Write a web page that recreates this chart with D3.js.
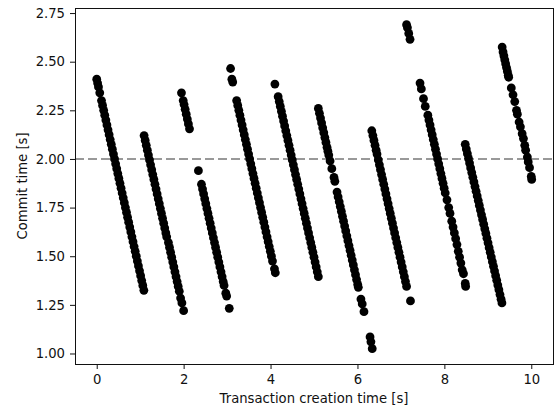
<!DOCTYPE html>
<html>
<head>
<meta charset="utf-8">
<script src="https://cdn.jsdelivr.net/npm/d3@7"></script>
<style>
  html, body { margin: 0; padding: 0; background: #fff; }
  svg { display: block; font-family: "DejaVu Sans", sans-serif; }
</style>
</head>
<body>
<svg id="chart" width="556" height="410"></svg>
<script>
// Transactions grouped by the block that committed them: [creation time, commit time] in seconds.
const block1 = [[0,2.41],[0.02,2.39],[0.04,2.37],[0.07,2.34],
  [0.11,2.30],[0.135,2.275],[0.16,2.25],[0.185,2.225],[0.21,2.20],[0.235,2.175],[0.26,2.15],[0.285,2.125],[0.31,2.10],[0.335,2.075],[0.36,2.05],[0.385,2.025],[0.41,2.00],[0.435,1.975],[0.46,1.95],[0.485,1.925],[0.51,1.90],[0.535,1.875],[0.56,1.85],[0.585,1.825],[0.61,1.80],[0.635,1.775],[0.66,1.75],[0.685,1.725],[0.71,1.70],[0.735,1.675],[0.76,1.65],[0.785,1.625],[0.81,1.60],[0.835,1.575],[0.86,1.55],[0.885,1.525],[0.91,1.50],[0.935,1.475],[0.96,1.45],[0.985,1.425],[1.01,1.40],[1.035,1.375],[1.06,1.35],[1.085,1.325]];
const block2 = [[1.09,2.12],[1.115,2.095],[1.14,2.07],[1.165,2.045],[1.19,2.02],[1.215,1.995],[1.24,1.97],[1.265,1.945],[1.29,1.92],[1.315,1.895],[1.34,1.87],[1.365,1.845],[1.39,1.82],[1.415,1.795],[1.44,1.77],[1.465,1.745],[1.49,1.72],[1.515,1.695],[1.54,1.67],[1.565,1.645],[1.59,1.62],[1.61,1.60],
  [1.65,1.57],[1.675,1.545],[1.70,1.52],[1.725,1.495],[1.75,1.47],[1.775,1.445],[1.80,1.42],[1.825,1.395],[1.85,1.37],[1.875,1.345],[1.90,1.32],[1.93,1.285],[1.96,1.26],[2.00,1.22]];
const block3 = [[1.95,2.34],[1.99,2.30],[2.01,2.28],[2.035,2.255],[2.06,2.23],[2.085,2.205],[2.11,2.18],[2.135,2.155],
  [2.34,1.94],
  [2.41,1.87],[2.435,1.845],[2.46,1.82],[2.485,1.795],[2.51,1.77],[2.535,1.745],[2.56,1.72],[2.585,1.695],[2.61,1.67],[2.635,1.645],[2.66,1.62],[2.685,1.595],[2.71,1.57],[2.735,1.545],[2.76,1.52],[2.785,1.495],[2.81,1.47],[2.835,1.445],[2.86,1.42],[2.885,1.395],[2.91,1.37],[2.93,1.35],
  [2.97,1.31],[2.99,1.295],[3.05,1.232]];
const block4 = [[3.08,2.465],[3.11,2.41],[3.13,2.395],
  [3.22,2.30],[3.245,2.275],[3.27,2.25],[3.295,2.225],[3.32,2.20],[3.345,2.175],[3.37,2.15],[3.395,2.125],[3.42,2.10],[3.445,2.075],[3.47,2.05],[3.495,2.025],[3.52,2.00],[3.545,1.975],[3.57,1.95],[3.595,1.925],[3.62,1.90],[3.645,1.875],[3.67,1.85],[3.695,1.825],[3.72,1.80],[3.745,1.775],[3.77,1.75],[3.795,1.725],[3.82,1.70],[3.845,1.675],[3.87,1.65],[3.895,1.625],[3.92,1.60],[3.945,1.575],[3.97,1.55],[3.995,1.525],[4.02,1.50],[4.045,1.475],
  [4.09,1.435],[4.11,1.415]];
const block5 = [[4.10,2.385],
  [4.175,2.32],[4.20,2.295],[4.225,2.27],[4.25,2.245],[4.275,2.22],[4.30,2.195],[4.325,2.17],[4.35,2.145],[4.375,2.12],[4.40,2.095],[4.425,2.07],[4.45,2.045],[4.475,2.02],[4.50,1.995],[4.525,1.97],[4.55,1.945],[4.575,1.92],[4.60,1.895],[4.625,1.87],[4.65,1.845],[4.675,1.82],[4.70,1.795],[4.725,1.77],[4.75,1.745],[4.775,1.72],[4.80,1.695],[4.825,1.67],[4.85,1.645],[4.875,1.62],[4.90,1.595],[4.925,1.57],[4.95,1.545],[4.975,1.52],[5.00,1.495],[5.025,1.47],[5.05,1.445],[5.075,1.42],[5.10,1.395]];
const block6 = [[5.10,2.26],[5.125,2.235],[5.15,2.21],[5.175,2.185],[5.20,2.16],[5.225,2.135],[5.25,2.11],[5.275,2.085],[5.30,2.06],[5.32,2.04],
  [5.34,2.02],[5.37,1.99],[5.41,1.95],[5.46,1.905],[5.48,1.885],
  [5.53,1.83],[5.555,1.805],[5.58,1.78],[5.605,1.755],[5.63,1.73],[5.655,1.705],[5.68,1.68],[5.705,1.655],[5.73,1.63],[5.755,1.605],[5.78,1.58],[5.805,1.555],[5.83,1.53],[5.855,1.505],[5.88,1.48],[5.905,1.455],[5.93,1.43],[5.955,1.405],[5.98,1.38],[6.005,1.355],[6.02,1.34],
  [6.08,1.28],[6.11,1.255],[6.15,1.215],
  [6.29,1.085],[6.31,1.06],[6.34,1.025]];
const block7 = [[6.33,2.145],[6.355,2.12],[6.38,2.095],[6.405,2.07],[6.43,2.045],[6.45,2.025],
  [6.48,1.995],[6.505,1.97],[6.53,1.945],[6.555,1.92],[6.58,1.895],[6.605,1.87],[6.63,1.845],[6.655,1.82],[6.68,1.795],[6.705,1.77],[6.73,1.745],[6.755,1.72],[6.78,1.695],[6.805,1.67],[6.83,1.645],[6.855,1.62],[6.88,1.595],[6.905,1.57],[6.93,1.545],[6.955,1.52],[6.98,1.495],[7.005,1.47],[7.03,1.445],[7.055,1.42],[7.08,1.395],[7.105,1.37],[7.13,1.345],
  [7.22,1.27]];
const block8 = [[7.13,2.69],[7.15,2.675],[7.18,2.645],[7.21,2.615],
  [7.44,2.39],[7.47,2.36],[7.52,2.31],[7.56,2.27],
  [7.62,2.225],[7.645,2.20],[7.67,2.175],[7.695,2.15],[7.72,2.125],[7.745,2.10],[7.77,2.075],[7.795,2.05],[7.82,2.025],[7.845,2.00],[7.87,1.975],[7.895,1.95],[7.92,1.925],[7.945,1.90],[7.97,1.875],[7.995,1.85],[8.02,1.825],
  [8.06,1.79],[8.10,1.75],[8.13,1.72],[8.17,1.68],[8.20,1.65],[8.23,1.62],[8.26,1.59],[8.29,1.56],[8.32,1.525],[8.35,1.495],[8.38,1.465],[8.41,1.43],[8.44,1.41],[8.48,1.36],[8.49,1.345]];
const block9 = [[8.48,2.075],[8.505,2.051],[8.53,2.027],[8.555,2.003],[8.58,1.979],[8.605,1.954],[8.63,1.930],[8.655,1.906],[8.68,1.882],[8.705,1.858],[8.73,1.834],[8.755,1.810],[8.78,1.786],[8.805,1.761],[8.83,1.737],[8.855,1.713],[8.88,1.689],[8.905,1.665],[8.93,1.641],[8.955,1.617],[8.98,1.593],[9.005,1.569],[9.03,1.544],[9.055,1.520],[9.08,1.496],[9.105,1.472],[9.13,1.448],[9.155,1.424],[9.18,1.400],[9.205,1.376],[9.23,1.352],[9.255,1.328],[9.28,1.303],[9.305,1.279],[9.325,1.26]];
const block10 = [[9.33,2.575],[9.35,2.55],[9.37,2.53],[9.39,2.51],[9.41,2.49],[9.43,2.47],[9.45,2.45],[9.47,2.43],[9.48,2.42],
  [9.54,2.365],[9.58,2.33],[9.62,2.295],[9.66,2.25],[9.68,2.23],[9.72,2.19],[9.75,2.165],[9.79,2.13],[9.82,2.105],[9.85,2.07],[9.87,2.045],[9.91,2.01],[9.93,1.985],[9.96,1.955],[10.0,1.91],[10.01,1.895]];

const blocks = [block1, block2, block3, block4, block5, block6, block7, block8, block9, block10];

// Axis ticks and reference level
const xTicks = [0, 2, 4, 6, 8, 10];
const yTicks = [1.00, 1.25, 1.50, 1.75, 2.00, 2.25, 2.50, 2.75];
const thresholdSeconds = 2.0;

const fontSize = 13.2;
const svg = d3.select("#chart");
const plot = { left: 75, right: 553, top: 8, bottom: 364 };

const x = d3.scaleLinear().domain([-0.5, 10.5]).range([plot.left, plot.right]);
const y = d3.scaleLinear().domain([0.946, 2.776]).range([plot.bottom, plot.top]);

// Dashed reference line across the whole axes
svg.append("line")
  .attr("x1", plot.left).attr("x2", plot.right)
  .attr("y1", y(thresholdSeconds)).attr("y2", y(thresholdSeconds))
  .attr("stroke", "#999999")
  .attr("stroke-width", 2)
  .attr("stroke-dasharray", "9,4");

// Scatter of every transaction
const points = blocks.flat();
svg.append("g")
  .selectAll("circle")
  .data(points)
  .join("circle")
  .attr("cx", d => x(d[0]))
  .attr("cy", d => y(d[1]))
  .attr("r", 4.4)
  .attr("fill", "#000");

// Axes
const xAxis = d3.axisBottom(x)
  .tickValues(xTicks)
  .tickFormat(d3.format("d"))
  .tickSize(5)
  .tickPadding(6)
  .tickSizeOuter(0);
const yAxis = d3.axisLeft(y)
  .tickValues(yTicks)
  .tickFormat(d3.format(".2f"))
  .tickSize(5)
  .tickPadding(5)
  .tickSizeOuter(0);

const gx = svg.append("g").attr("transform", `translate(0,${plot.bottom})`).call(xAxis);
const gy = svg.append("g").attr("transform", `translate(${plot.left},0)`).call(yAxis);
[gx, gy].forEach(g => {
  g.select(".domain").remove();
  g.selectAll("text")
    .attr("font-family", "DejaVu Sans, sans-serif")
    .attr("font-size", fontSize)
    .attr("fill", "#111");
  g.selectAll(".tick line").attr("stroke", "#111");
});

// Frame
svg.append("rect")
  .attr("x", plot.left).attr("y", plot.top)
  .attr("width", plot.right - plot.left)
  .attr("height", plot.bottom - plot.top)
  .attr("fill", "none")
  .attr("stroke", "#111")
  .attr("stroke-width", 1)
  .attr("shape-rendering", "crispEdges");

// Axis titles
svg.append("text")
  .attr("x", (plot.left + plot.right) / 2)
  .attr("y", 403)
  .attr("text-anchor", "middle")
  .attr("font-size", fontSize)
  .attr("fill", "#111")
  .text("Transaction creation time [s]");

svg.append("text")
  .attr("transform", `translate(26.5,${(plot.top + plot.bottom) / 2}) rotate(-90)`)
  .attr("text-anchor", "middle")
  .attr("font-size", fontSize)
  .attr("fill", "#111")
  .text("Commit time [s]");
</script>
</body>
</html>
